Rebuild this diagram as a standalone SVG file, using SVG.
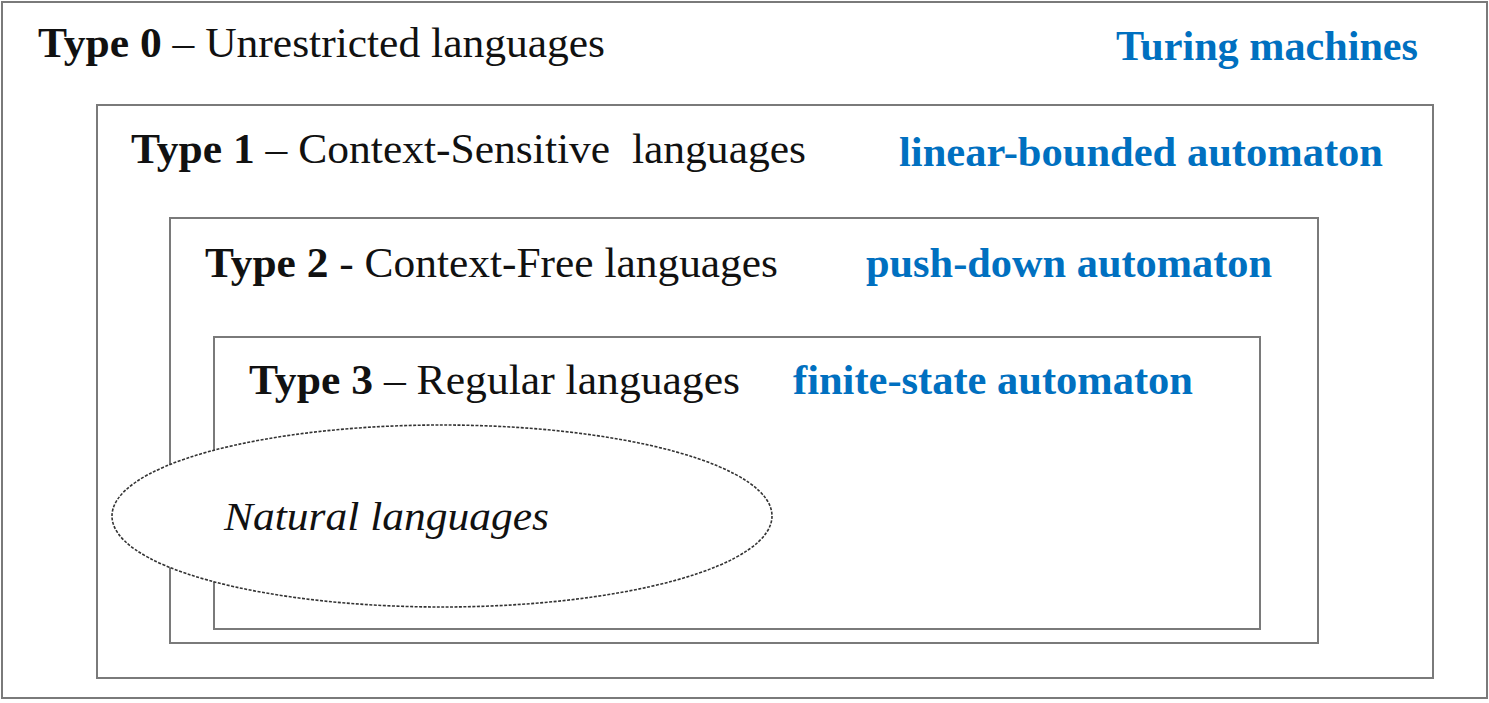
<svg xmlns="http://www.w3.org/2000/svg" width="1489" height="703" viewBox="0 0 1489 703">
<style>
.box{fill:none;stroke:#7a7a7a;stroke-width:2}
.t{font-family:"Liberation Serif","Times New Roman",serif;font-size:42px;fill:#111}
.b{font-weight:bold}
.blue{font-family:"Liberation Serif","Times New Roman",serif;font-size:43px;font-weight:bold;fill:#0070C0}
.nat{font-family:"Liberation Serif","Times New Roman",serif;font-size:41px;font-style:italic;fill:#111}
</style>
<rect width="1489" height="703" fill="#ffffff"/>
<g id="type0">
<rect class="box" x="2" y="2" width="1485" height="696" stroke="#999"/>
<text class="t" x="38" y="57" textLength="567" lengthAdjust="spacingAndGlyphs"><tspan class="b">Type 0</tspan> – Unrestricted languages</text>
<text class="blue" x="1116" y="60" textLength="302" lengthAdjust="spacingAndGlyphs">Turing machines</text>
</g>
<g id="type1">
<rect class="box" x="97" y="105" width="1336" height="573"/>
<text class="t" x="131" y="163" textLength="675" lengthAdjust="spacingAndGlyphs" xml:space="preserve"><tspan class="b">Type 1</tspan> – Context-Sensitive  languages</text>
<text class="blue" x="899" y="166" textLength="484" lengthAdjust="spacingAndGlyphs">linear-bounded automaton</text>
</g>
<g id="type2">
<rect class="box" x="170" y="218" width="1148" height="425"/>
<text class="t" x="205" y="277" textLength="573" lengthAdjust="spacingAndGlyphs"><tspan class="b">Type 2</tspan> - Context-Free languages</text>
<text class="blue" x="866" y="277" textLength="406" lengthAdjust="spacingAndGlyphs">push-down automaton</text>
</g>
<g id="type3">
<rect class="box" x="214" y="337" width="1046" height="292" stroke="#555"/>
<text class="t" x="249" y="394" textLength="491" lengthAdjust="spacingAndGlyphs"><tspan class="b">Type 3</tspan> – Regular languages</text>
<text class="blue" x="793" y="394" textLength="400" lengthAdjust="spacingAndGlyphs">finite-state automaton</text>
</g>
<g id="natural">
<ellipse cx="442" cy="516" rx="330" ry="91" fill="#ffffff" stroke="#333" stroke-width="1.6" stroke-dasharray="3 1.5"/>
<text class="nat" x="224" y="530" textLength="325" lengthAdjust="spacingAndGlyphs">Natural languages</text>
</g>
<g id="connectors"/>
</svg>
